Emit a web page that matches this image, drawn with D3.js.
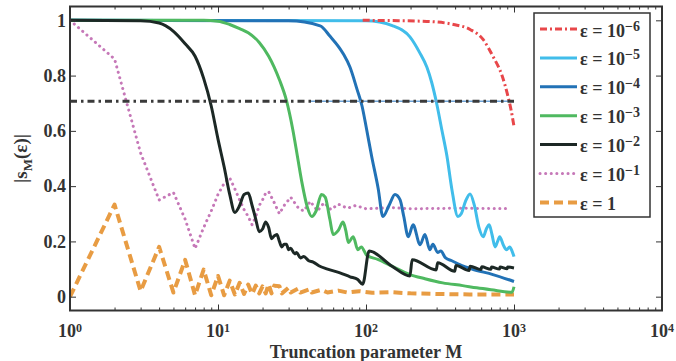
<!DOCTYPE html>
<html>
<head>
<meta charset="utf-8">
<script src="https://cdn.jsdelivr.net/npm/d3@7"></script>
<style>
  body { margin: 0; background: #fff; }
  svg { display: block; }
  text { font-family: "Liberation Serif", "Times New Roman", serif; font-weight: bold; fill: #333; }
</style>
</head>
<body>
<svg id="chart" width="676" height="361"></svg>
<script>
// ---- data ----
const epsExponents = ['\u22126', '\u22125', '\u22124', '\u22123', '\u22122', '\u22121', ''];
const yTicks = [0, 0.2, 0.4, 0.6, 0.8, 1];
const xDecades = [0, 1, 2, 3, 4];

const mEps6 = [95, 150, 258, 390, 505, 620, 720, 830, 910, 960, 1000];
const sEps6 = [1.0, 0.999, 0.996, 0.985, 0.967, 0.93, 0.87, 0.80, 0.725, 0.67, 0.616];

const mEps5 = [1, 100, 152, 198, 230, 258, 278, 300, 325, 352, 380, 418, 440, 470, 505, 540, 580, 620, 650, 680, 710, 745, 775, 800, 850, 890, 935, 970, 1000];
const sEps5 = [1.0, 0.998, 0.98, 0.94, 0.884, 0.83, 0.775, 0.70, 0.605, 0.51, 0.39, 0.29, 0.30, 0.345, 0.372, 0.33, 0.25, 0.217, 0.245, 0.26, 0.225, 0.18, 0.2, 0.217, 0.185, 0.17, 0.18, 0.165, 0.145];

const mEps4 = [1, 30, 49, 57, 70, 78, 87, 94, 101, 109, 121, 130, 143, 157, 170, 180, 193, 208, 232, 250, 270, 283, 305, 320, 345, 380, 430, 520, 720, 1000];
const sEps4 = [1.0, 0.998, 0.98, 0.943, 0.88, 0.83, 0.75, 0.69, 0.605, 0.51, 0.39, 0.29, 0.33, 0.37, 0.35, 0.29, 0.217, 0.26, 0.188, 0.225, 0.17, 0.19, 0.16, 0.165, 0.14, 0.13, 0.116, 0.10, 0.08, 0.055];

const mEps3 = [1, 8, 10, 12, 14, 16, 19, 22, 24, 26, 29, 32, 34.6, 37, 40, 43, 46, 50, 53, 57, 60, 65, 70, 73, 76, 82, 88, 93, 101, 120, 152, 198, 250, 330, 450, 560, 700, 970, 1000];
const sEps3 = [1.0, 1.0, 0.997, 0.985, 0.97, 0.955, 0.92, 0.87, 0.83, 0.785, 0.71, 0.605, 0.50, 0.41, 0.327, 0.29, 0.31, 0.37, 0.36, 0.28, 0.225, 0.24, 0.27, 0.24, 0.196, 0.217, 0.17, 0.18, 0.15, 0.135, 0.109, 0.08, 0.065, 0.05, 0.04, 0.032, 0.025, 0.016, 0.036];

const mEps2 = [1, 3, 4, 5, 6, 7, 8, 9, 10, 11, 12, 13, 14, 15, 16, 17, 18, 19, 20, 21, 22, 23, 24, 25, 26, 27, 28, 29, 30, 31, 33, 34, 36, 38, 41, 44, 48, 55, 66, 78, 88, 95, 105, 150, 198, 205, 298, 305, 398, 405, 498, 505, 598, 605, 698, 705, 798, 805, 898, 905, 1000];
const sEps2 = [1.0, 0.998, 0.99, 0.96, 0.915, 0.87, 0.79, 0.69, 0.57, 0.47, 0.37, 0.305, 0.33, 0.37, 0.375, 0.33, 0.28, 0.235, 0.245, 0.27, 0.25, 0.21, 0.22, 0.225, 0.20, 0.18, 0.19, 0.19, 0.17, 0.175, 0.155, 0.16, 0.14, 0.145, 0.13, 0.125, 0.112, 0.10, 0.087, 0.072, 0.062, 0.045, 0.165, 0.11, 0.075, 0.134, 0.097, 0.123, 0.092, 0.113, 0.095, 0.11, 0.098, 0.108, 0.099, 0.107, 0.100, 0.107, 0.101, 0.107, 0.104];

const mEps1 = [1, 2, 3, 4, 5, 6, 7, 8, 9, 10, 11, 12, 13, 14, 15, 16, 17, 18, 19, 20, 21, 22, 24, 26, 28, 31, 35, 38, 42, 47, 52, 58, 65, 75, 85, 100, 150, 200, 400, 700, 950];
const sEps1 = [1.0, 0.86, 0.52, 0.35, 0.377, 0.28, 0.174, 0.25, 0.31, 0.37, 0.41, 0.43, 0.39, 0.35, 0.315, 0.29, 0.26, 0.29, 0.33, 0.35, 0.375, 0.38, 0.34, 0.30, 0.33, 0.36, 0.32, 0.31, 0.345, 0.31, 0.34, 0.315, 0.335, 0.32, 0.33, 0.318, 0.322, 0.318, 0.32, 0.319, 0.319];

const mEps0 = [1, 2, 3, 4, 5, 6, 7, 8, 9, 10, 11, 12, 13, 14, 15, 16, 17, 18, 19, 20, 21, 22, 23, 24, 26, 27, 30, 31, 35, 36, 42, 43, 50, 55, 65, 75, 90, 110, 150, 200, 300, 500, 1000];
const sEps0 = [0.0, 0.333, 0.02, 0.18, 0.015, 0.133, 0.005, 0.098, 0.005, 0.075, 0.005, 0.058, 0.008, 0.05, 0.01, 0.044, 0.01, 0.04, 0.012, 0.037, 0.012, 0.045, 0.012, 0.04, 0.038, 0.012, 0.033, 0.015, 0.03, 0.015, 0.028, 0.015, 0.025, 0.015, 0.022, 0.015, 0.02, 0.014, 0.016, 0.012, 0.01, 0.008, 0.008];

const refM = [1, 1000];
const refS = [0.7071, 0.7071];
const refBlueM = [42, 1000];

// ---- layout ----
const plot = { left: 70, right: 662, top: 6.5, bottom: 310.5 };

const x = d3.scaleLog().domain([1, 10000]).range([plot.left, plot.right]);
const y = d3.scaleLinear().domain([-0.05, 1.05]).range([plot.bottom, plot.top]);

const svg = d3.select('#chart');

// smooth: the continuous curves; the eps = 0.1 and eps = 1 curves are straight segments between integer M
const series = [
  { m: mEps6, s: sEps6, color: '#e8474a', width: 3, dash: '7 3 2 3', smooth: true },
  { m: mEps5, s: sEps5, color: '#41bdea', width: 3, dash: null, smooth: true },
  { m: mEps4, s: sEps4, color: '#2272b6', width: 3, dash: null, smooth: true },
  { m: mEps3, s: sEps3, color: '#4fb960', width: 3, dash: null, smooth: true },
  { m: mEps2, s: sEps2, color: '#1c2825', width: 3, dash: null, smooth: true },
  { m: mEps1, s: sEps1, color: '#c678b8', width: 3, dash: '0.1 5.5', cap: 'round', smooth: false },
  { m: mEps0, s: sEps0, color: '#e89c43', width: 4, dash: '9 5', smooth: false }
];

const lineSmooth = d3.line().x(d => x(d[0])).y(d => y(d[1])).curve(d3.curveMonotoneX);
const lineStraight = d3.line().x(d => x(d[0])).y(d => y(d[1]));

svg.append('clipPath').attr('id', 'clip')
  .append('rect')
  .attr('x', plot.left).attr('y', plot.top)
  .attr('width', plot.right - plot.left).attr('height', plot.bottom - plot.top);

const g = svg.append('g').attr('clip-path', 'url(#clip)');

// orange, pink at the bottom, then light blue .. black, red on top
const drawOrder = [6, 5, 1, 2, 3, 4, 0];
drawOrder.forEach(i => {
  const d = series[i];
  g.append('path')
    .datum(d3.zip(d.m, d.s))
    .attr('fill', 'none')
    .attr('stroke', d.color)
    .attr('stroke-width', d.width)
    .attr('stroke-dasharray', d.dash)
    .attr('stroke-linecap', d.cap || 'butt')
    .attr('stroke-linejoin', 'round')
    .attr('d', d.smooth ? lineSmooth : lineStraight);
});

// 1/sqrt(2) reference lines
g.append('path')
  .datum(d3.zip(refBlueM, refS))
  .attr('fill', 'none')
  .attr('stroke', '#6fa3d6')
  .attr('stroke-width', 1.5)
  .attr('d', lineStraight);
g.append('path')
  .datum(d3.zip(refM, refS))
  .attr('fill', 'none')
  .attr('stroke', '#3a3a3a')
  .attr('stroke-width', 3)
  .attr('stroke-dasharray', '7 4 2.5 4')
  .attr('d', lineStraight);

// ---- axes ----
const majors = xDecades.map(k => Math.pow(10, k));
const minors = [];
for (let k = 0; k < 4; k++) {
  for (let j = 2; j <= 9; j++) minors.push(j * Math.pow(10, k));
}

const axisStyle = sel => {
  sel.select('.domain').remove();
  sel.selectAll('line').attr('stroke', '#333').attr('stroke-width', 1);
};

svg.append('g').attr('transform', `translate(0,${plot.bottom})`)
  .call(d3.axisBottom(x).tickValues(majors).tickSize(-6).tickFormat(''))
  .call(axisStyle);
svg.append('g').attr('transform', `translate(0,${plot.bottom})`)
  .call(d3.axisBottom(x).tickValues(minors).tickSize(-3).tickFormat(''))
  .call(axisStyle);
svg.append('g').attr('transform', `translate(0,${plot.top})`)
  .call(d3.axisTop(x).tickValues(majors).tickSize(-6).tickFormat(''))
  .call(axisStyle);
svg.append('g').attr('transform', `translate(0,${plot.top})`)
  .call(d3.axisTop(x).tickValues(minors).tickSize(-3).tickFormat(''))
  .call(axisStyle);
svg.append('g').attr('transform', `translate(${plot.left},0)`)
  .call(d3.axisLeft(y).tickValues(yTicks).tickSize(-6).tickFormat(''))
  .call(axisStyle);
svg.append('g').attr('transform', `translate(${plot.right},0)`)
  .call(d3.axisRight(y).tickValues(yTicks).tickSize(-6).tickFormat(''))
  .call(axisStyle);

svg.append('rect')
  .attr('x', plot.left).attr('y', plot.top)
  .attr('width', plot.right - plot.left).attr('height', plot.bottom - plot.top)
  .attr('fill', 'none')
  .attr('stroke', '#333')
  .attr('stroke-width', 2);

// y tick labels
svg.append('g').selectAll('text')
  .data(yTicks)
  .join('text')
  .attr('x', plot.left - 4)
  .attr('y', d => y(d))
  .attr('dy', '0.35em')
  .attr('text-anchor', 'end')
  .attr('font-size', 18)
  .text(d => d3.format('~g')(d));

// x tick labels 10^k
const xl = svg.append('g').selectAll('text')
  .data(xDecades)
  .join('text')
  .attr('x', d => x(Math.pow(10, d)))
  .attr('y', 337)
  .attr('text-anchor', 'middle')
  .attr('font-size', 18);
xl.append('tspan').text('10');
xl.append('tspan').attr('font-size', 12).attr('dy', -5).text(d => d);

// axis titles
svg.append('text')
  .attr('x', (plot.left + plot.right) / 2)
  .attr('y', 358)
  .attr('text-anchor', 'middle')
  .attr('font-size', 18)
  .text('Truncation parameter M');

const yl = svg.append('text')
  .attr('transform', `translate(27,${(plot.top + plot.bottom) / 2}) rotate(-90)`)
  .attr('text-anchor', 'middle')
  .attr('font-size', 19);
yl.append('tspan').text('|s');
yl.append('tspan').attr('font-size', 13).attr('dy', 5).text('M');
yl.append('tspan').attr('dy', -5).text('(\u03b5)|');

// ---- legend ----
const leg = { x0: 534, y0: 13, x1: 650, y1: 217, rowY: 29, rowH: 28.9 };
svg.append('rect')
  .attr('x', leg.x0).attr('y', leg.y0)
  .attr('width', leg.x1 - leg.x0).attr('height', leg.y1 - leg.y0)
  .attr('fill', '#fff')
  .attr('stroke', '#333')
  .attr('stroke-width', 1.5);

const rows = svg.append('g').selectAll('g')
  .data(series)
  .join('g')
  .attr('transform', (d, i) => `translate(0,${leg.rowY + i * leg.rowH})`);

rows.append('line')
  .attr('x1', 540).attr('x2', 577)
  .attr('y1', 0).attr('y2', 0)
  .attr('stroke', d => d.color)
  .attr('stroke-width', d => d.width)
  .attr('stroke-dasharray', d => d.dash)
  .attr('stroke-linecap', d => d.cap || 'butt');

const lt = rows.append('text')
  .attr('x', 580)
  .attr('y', 7.5)
  .attr('font-size', 18);
lt.append('tspan').text((d, i) => epsExponents[i] ? '\u03b5 = 10' : '\u03b5 = 1');
lt.append('tspan')
  .attr('font-size', 14)
  .attr('dy', -6)
  .text((d, i) => epsExponents[i]);
</script>
</body>
</html>
